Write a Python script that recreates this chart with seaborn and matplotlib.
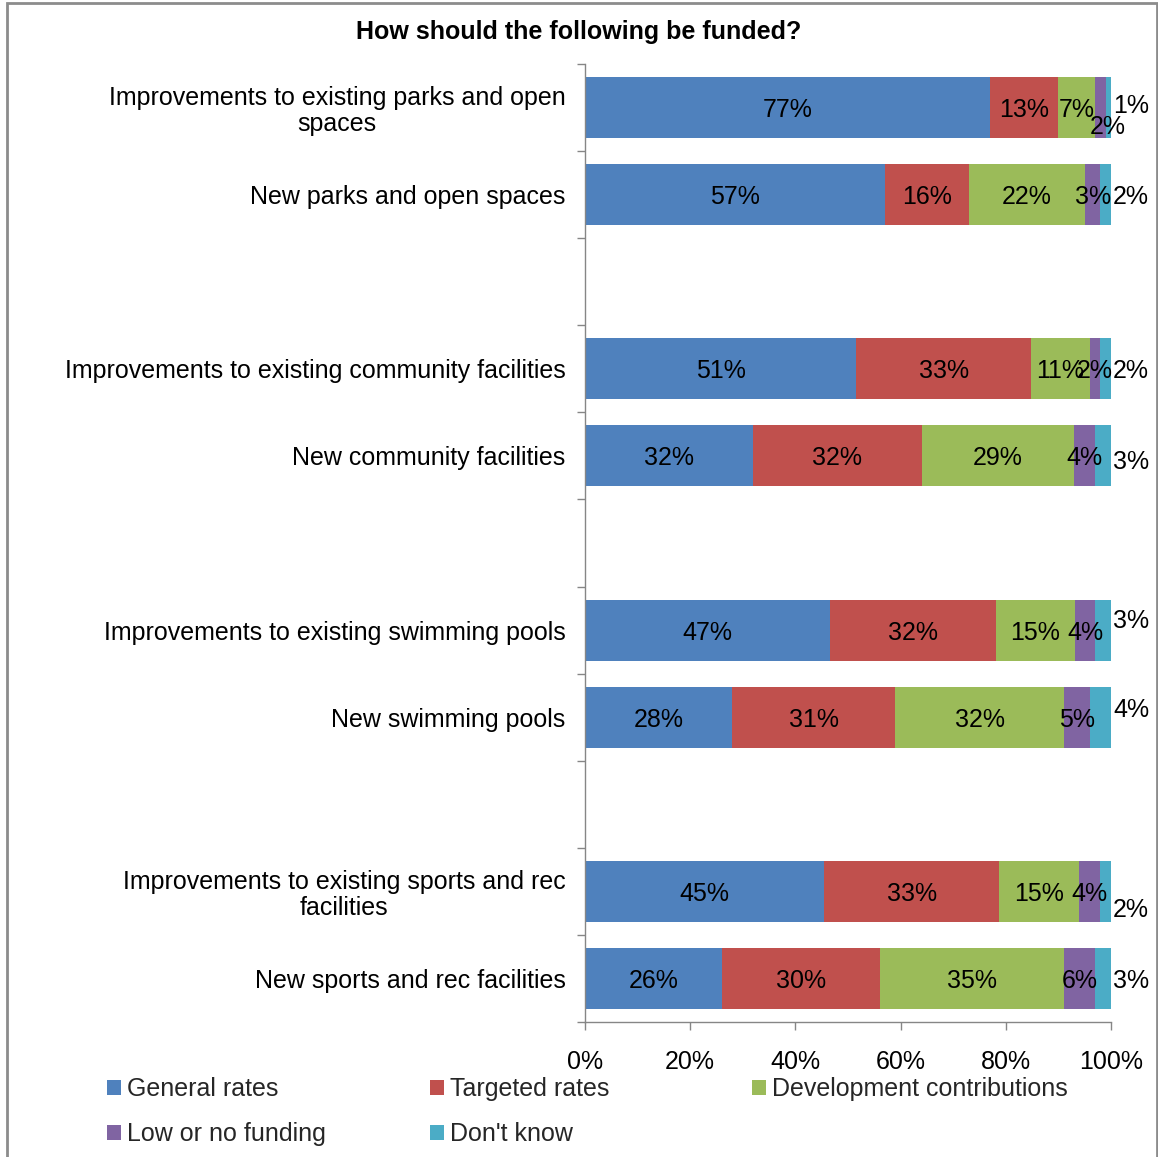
import numpy as np
import pandas as pd
import seaborn as sns
import matplotlib
matplotlib.use("Agg")
import matplotlib.pyplot as plt
from matplotlib.patches import Patch, Rectangle
from matplotlib.ticker import PercentFormatter, FixedLocator

# ---------------- data ----------------
categories = [
    "Improvements to existing parks and open\nspaces",
    "New parks and open spaces",
    "Improvements to existing community facilities",
    "New community facilities",
    "Improvements to existing swimming pools",
    "New swimming pools",
    "Improvements to existing sports and rec\nfacilities",
    "New sports and rec facilities",
]
series_names = ["General rates", "Targeted rates", "Development contributions",
                "Low or no funding", "Don't know"]
general_rates = [77, 57, 51, 32, 47, 28, 45, 26]
targeted_rates = [13, 16, 33, 32, 32, 31, 33, 30]
development_contributions = [7, 22, 11, 29, 15, 32, 15, 35]
low_or_no_funding = [2, 3, 2, 4, 4, 5, 4, 6]
dont_know = [1, 2, 2, 3, 3, 4, 2, 3]
x_ticks = [0, 20, 40, 60, 80, 100]

colors = ["#4F81BD", "#C0504D", "#9BBB59", "#8064A2", "#4BACC6"]

# row slots (blank rows between groups)
slots = [categories[0], categories[1], " ",
         categories[2], categories[3], "  ",
         categories[4], categories[5], "   ",
         categories[6], categories[7]]

values = np.array([general_rates, targeted_rates, development_contributions,
                   low_or_no_funding, dont_know], dtype=float).T  # (8, 5)
norm = values / values.sum(axis=1, keepdims=True) * 100
cum = np.cumsum(norm, axis=1)

# label nudges (in row units / percent units) for crowded labels
dk_dy = [-0.05, 0, 0, 0.04, -0.13, -0.11, 0.18, 0]
low_dy = [0.2, 0, 0, 0, 0, 0, 0, 0]
low_dx = [1.4, 0, 0, 0, 0, 0, 0, 0]

# ---------------- style ----------------
sns.set_theme(style="white")
plt.rcParams["font.family"] = ["Liberation Sans", "DejaVu Sans"]
FS = 18

W, H = 1158, 1157
fig = plt.figure(figsize=(W / 100, H / 100), dpi=100)
ax = fig.add_axes([585 / W, 1 - 1022 / H, (1111 - 585) / W, (1022 - 64) / H])

# stacked bars via cumulative overlays (largest first)
for k in reversed(range(5)):
    df = pd.DataFrame({"cat": categories, "val": cum[:, k]})
    sns.barplot(data=df, x="val", y="cat", order=slots, orient="y",
                color=colors[k], saturation=1, width=0.7, ax=ax,
                linewidth=0, errorbar=None)

ax.set_xlim(0, 100)
ax.set_ylim(10.5, -0.5)
ax.set_xlabel("")
ax.set_ylabel("")

# data labels
slot_idx = [slots.index(c) for c in categories]
for i, yi in enumerate(slot_idx):
    for k in range(5):
        v = values[i, k]
        lab = f"{v:.0f}%"
        if k == 4:
            x = 103.8
            y = yi + dk_dy[i]
        elif k == 3:
            x = cum[i, k] - norm[i, k] / 2 + low_dx[i]
            y = yi + low_dy[i]
        else:
            x = cum[i, k] - norm[i, k] / 2
            y = yi
        ax.text(x, y, lab, ha="center", va="center_baseline", fontsize=FS,
                color="black", clip_on=False)

# axes styling
ax.xaxis.set_major_locator(FixedLocator(x_ticks))
ax.xaxis.set_major_formatter(PercentFormatter(decimals=0))
ax.tick_params(axis="x", which="major", direction="out", length=6,
               width=1, color="#868686", pad=14, labelsize=FS, labelcolor="black",
               bottom=True)
ax.set_yticks(slot_idx)
ax.set_yticklabels(categories)
for t in ax.get_yticklabels():
    t.set_multialignment("center")
    t.set_linespacing(1.1)
ax.tick_params(axis="y", which="major", length=0, pad=14, labelsize=FS,
               labelcolor="black", left=True)
ax.yaxis.set_minor_locator(FixedLocator(np.arange(-0.5, 11, 1.0)))
ax.tick_params(axis="y", which="minor", direction="out", length=6, width=1,
               color="#868686", left=True)
for s in ["top", "right"]:
    ax.spines[s].set_visible(False)
for s in ["left", "bottom"]:
    ax.spines[s].set_visible(True)
    ax.spines[s].set_color("#868686")
    ax.spines[s].set_linewidth(1)
ax.grid(False)

# title
fig.text(0.5, 1 - 32 / H, "How should the following be funded?",
         ha="center", va="center", fontsize=18, fontweight="bold", color="black")

# legend: three columns placed individually
handles = [Patch(facecolor=c, edgecolor="none") for c in colors]
col_groups = [([0, 3], 107), ([1, 4], 430), ([2], 752)]
for idxs, xpx in col_groups:
    lg = fig.legend([handles[i] for i in idxs], [series_names[i] for i in idxs],
                    loc="upper left", bbox_to_anchor=(xpx / W, 1 - 1077 / H),
                    frameon=False, fontsize=FS, handlelength=0.55, handleheight=0.55,
                    handletextpad=0.25, borderpad=0, borderaxespad=0,
                    labelspacing=0.85)

# outer chart frame
fig.patches.append(Rectangle((7 / W, -0.01), (1157 - 7) / W, 1.01 - 3 / H,
                             transform=fig.transFigure, fill=False,
                             edgecolor="#8C8C8C", linewidth=2))

fig.savefig("out.png", dpi=100)
